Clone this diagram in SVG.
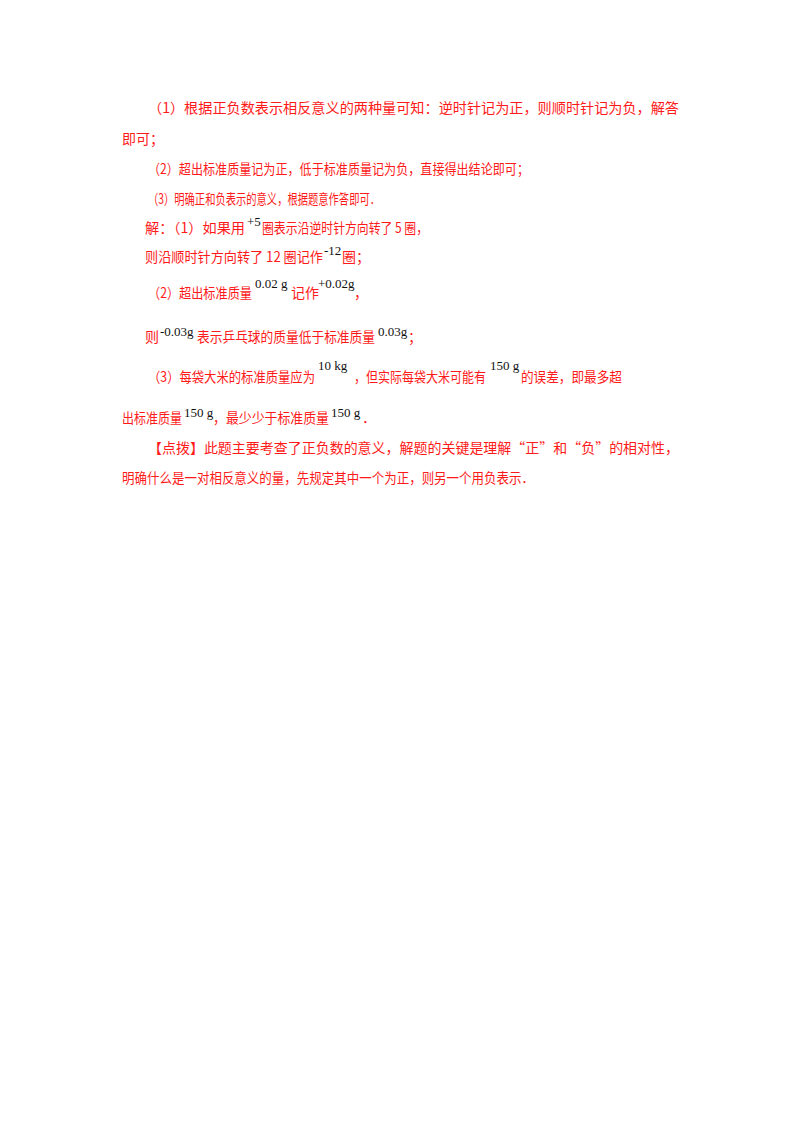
<svg xmlns="http://www.w3.org/2000/svg" width="800" height="1132" viewBox="0 0 800 1132">
<style>
.r{fill:#ff1a1a;font-family:"Noto Sans CJK SC","Liberation Serif",sans-serif;font-size:14px}
.m{fill:#111;font-family:"Liberation Serif",serif;font-size:13px}
</style>
<rect width="800" height="1132" fill="#fff"/>
<g id="text">
<text class="r" x="148" y="113" textLength="531" lengthAdjust="spacingAndGlyphs">（1）根据正负数表示相反意义的两种量可知：逆时针记为正，则顺时针记为负，解答</text>
<text class="r" x="122" y="144">即可；</text>
<text class="r" x="148" y="174" textLength="381" lengthAdjust="spacingAndGlyphs">（2）超出标准质量记为正，低于标准质量记为负，直接得出结论即可；</text>
<text class="r" x="148" y="204" textLength="232" lengthAdjust="spacingAndGlyphs">（3）明确正和负表示的意义，根据题意作答即可．</text>
<text class="r" x="145" y="233" textLength="100" lengthAdjust="spacingAndGlyphs">解：（1）如果用</text>
<text class="m" x="247" y="226">+5</text>
<text class="r" x="262" y="233" textLength="166" lengthAdjust="spacingAndGlyphs">圈表示沿逆时针方向转了 5 圈，</text>
<text class="r" x="145" y="262" textLength="178" lengthAdjust="spacingAndGlyphs">则沿顺时针方向转了 12 圈记作</text>
<text class="m" x="324" y="255">-12</text>
<text class="r" x="342" y="262">圈；</text>
<text class="r" x="148" y="298" textLength="104" lengthAdjust="spacingAndGlyphs">（2）超出标准质量</text>
<text class="m" x="255" y="288">0.02 g</text>
<text class="r" x="291" y="298">记作</text>
<text class="m" x="318" y="288">+0.02g</text>
<text class="r" x="354" y="298">，</text>
<text class="r" x="145" y="342">则</text>
<text class="m" x="160" y="336">-0.03g</text>
<text class="r" x="197" y="342" textLength="178" lengthAdjust="spacingAndGlyphs">表示乒乓球的质量低于标准质量</text>
<text class="m" x="378" y="336">0.03g</text>
<text class="r" x="408" y="342">；</text>
<text class="r" x="148" y="382" textLength="167" lengthAdjust="spacingAndGlyphs">（3）每袋大米的标准质量应为</text>
<text class="m" x="318" y="370">10 kg</text>
<text class="r" x="354" y="382" textLength="132" lengthAdjust="spacingAndGlyphs">，但实际每袋大米可能有</text>
<text class="m" x="490" y="370">150 g</text>
<text class="r" x="521" y="382" textLength="101" lengthAdjust="spacingAndGlyphs">的误差，即最多超</text>
<text class="r" x="122" y="423" textLength="60" lengthAdjust="spacingAndGlyphs">出标准质量</text>
<text class="m" x="184" y="417">150 g</text>
<text class="r" x="213" y="423" textLength="116" lengthAdjust="spacingAndGlyphs">，最少少于标准质量</text>
<text class="m" x="331" y="417">150 g</text>
<text class="r" x="362" y="423">．</text>
<text class="r" x="148" y="453" textLength="531" lengthAdjust="spacingAndGlyphs">【点拨】此题主要考查了正负数的意义，解题的关键是理解“正”和“负”的相对性，</text>
<text class="r" x="122" y="483" textLength="412" lengthAdjust="spacingAndGlyphs">明确什么是一对相反意义的量，先规定其中一个为正，则另一个用负表示．</text>
</g>
</svg>
